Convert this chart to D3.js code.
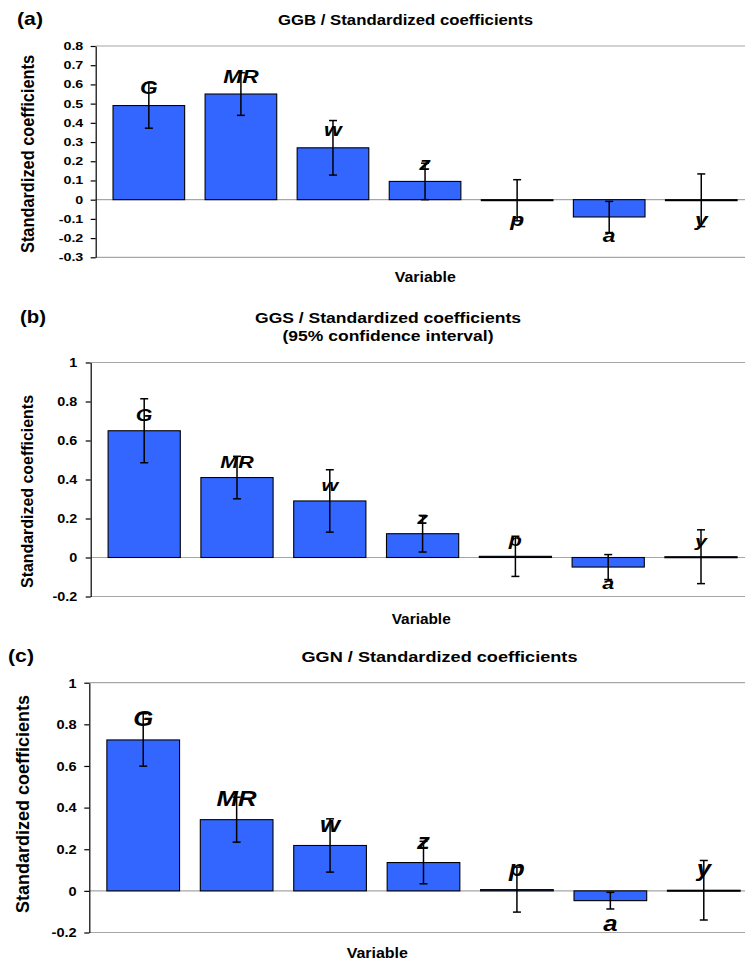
<!DOCTYPE html>
<html>
<head>
<meta charset="utf-8">
<script src="https://cdn.jsdelivr.net/npm/d3@7"></script>
<style>
  body { margin: 0; background: #fff; }
  svg text { font-family: 'Liberation Sans', Arial, sans-serif; font-weight: bold; fill: #000; }
</style>
</head>
<body>
<svg id="chart" width="745" height="964"></svg>
<script>
const variables = ['G', 'MR', 'w', 'z', 'p', 'a', 'y']

// (a) GGB
const ggbCoef = [0.49, 0.55, 0.27, 0.095, -0.003, -0.09, -0.003]
const ggbErr = [0.118, 0.111, 0.142, 0.095, 0.107, 0.081, 0.137]
const ggbTicks = [0.8, 0.7, 0.6, 0.5, 0.4, 0.3, 0.2, 0.1, 0, -0.1, -0.2, -0.3]

// (b) GGS
const ggsCoef = [0.65, 0.41, 0.29, 0.122, 0.006, -0.049, 0.004]
const ggsErr = [0.164, 0.109, 0.16, 0.094, 0.103, 0.064, 0.138]
const ggsTicks = [1, 0.8, 0.6, 0.4, 0.2, 0, -0.2]

// (c) GGN
const ggnCoef = [0.725, 0.342, 0.218, 0.136, 0.006, -0.047, 0.003]
const ggnErr = [0.126, 0.108, 0.128, 0.102, 0.108, 0.04, 0.143]
const ggnTicks = [1, 0.8, 0.6, 0.4, 0.2, 0, -0.2]

const svg = d3.select('#chart')

// the source picture is a bit stretched sideways, so text gets a horizontal scale
function drawPanel (p) {
  const g = svg.append('g')
  const y = d3.scaleLinear().domain(d3.extent(p.ticks)).range([p.bottom, p.top])
  const x = d3.scaleBand().domain(variables).range(p.band)
    .paddingInner(0.222).paddingOuter(0.111)
  const rows = variables.map((v, i) => ({ v, c: p.coef[i], e: p.err[i] }))
  const right = 745

  // plot border lines + zero line
  g.selectAll('line.grid')
    .data([y.domain()[1], 0, y.domain()[0]])
    .enter().append('line')
    .attr('x1', p.axisX).attr('x2', right)
    .attr('y1', d => y(d)).attr('y2', d => y(d))
    .attr('stroke', '#a6a6a6').attr('stroke-width', 1.2)

  g.selectAll('rect.bar')
    .data(rows)
    .enter().append('rect')
    .attr('x', d => x(d.v))
    .attr('width', x.bandwidth())
    .attr('y', d => y(Math.max(0, d.c)))
    .attr('height', d => Math.max(1, Math.abs(y(d.c) - y(0))))
    .attr('fill', '#3366ff')
    .attr('stroke', '#000').attr('stroke-width', 1.1)

  const cx = d => x(d.v) + x.bandwidth() / 2
  const err = g.selectAll('g.err').data(rows).enter().append('g')
  err.append('line')
    .attr('x1', cx).attr('x2', cx)
    .attr('y1', d => y(d.c - d.e)).attr('y2', d => y(d.c + d.e))
  err.append('line')
    .attr('x1', d => cx(d) - 4).attr('x2', d => cx(d) + 4)
    .attr('y1', d => y(d.c - d.e)).attr('y2', d => y(d.c - d.e))
  err.append('line')
    .attr('x1', d => cx(d) - 4).attr('x2', d => cx(d) + 4)
    .attr('y1', d => y(d.c + d.e)).attr('y2', d => y(d.c + d.e))
  err.selectAll('line').attr('stroke', '#000').attr('stroke-width', 1.5)

  g.selectAll('text.lab')
    .data(rows)
    .enter().append('text')
    .attr('transform', d => {
      const ly = d.c >= 0 ? y(d.c) - p.labelSize * 0.6 : y(d.c) + p.labelSize * 1.33
      return `translate(${cx(d)},${ly}) scale(${p.labelSx},1)`
    })
    .attr('text-anchor', 'middle')
    .attr('font-style', 'italic')
    .attr('font-size', p.labelSize)
    .text(d => d.v)

  const axis = g.append('g')
    .attr('transform', `translate(${p.axisX},0)`)
    .call(d3.axisLeft(y).tickValues(p.ticks).tickFormat(d => d)
      .tickSize(5).tickSizeOuter(0))
  axis.select('.domain').attr('stroke', '#000').attr('stroke-width', 1.2)
  axis.selectAll('.tick line').attr('stroke', '#000').attr('stroke-width', 1.2)
  axis.selectAll('.tick text')
    .attr('x', -p.tickGap / p.tickSx)
    .attr('transform', `scale(${p.tickSx},1)`)
    .attr('font-size', p.tickSize)
    .attr('font-family', "'Liberation Sans', Arial, sans-serif")
    .attr('font-weight', 'bold')
    .attr('fill', '#000')

  g.append('text')
    .attr('transform', `translate(${p.yTitle[0]},${p.yTitle[1]}) rotate(-90)`)
    .attr('text-anchor', 'middle').attr('dominant-baseline', 'central')
    .attr('font-size', p.yTitleSize)
    .attr('textLength', p.yTitleLen).attr('lengthAdjust', 'spacingAndGlyphs')
    .text('Standardized coefficients')

  g.append('text')
    .attr('x', p.xTitle[0]).attr('y', p.xTitle[1])
    .attr('text-anchor', 'middle').attr('dominant-baseline', 'central')
    .attr('font-size', 14)
    .attr('textLength', p.xTitleLen).attr('lengthAdjust', 'spacingAndGlyphs')
    .text('Variable')

  g.selectAll('text.title')
    .data(p.title)
    .enter().append('text')
    .attr('x', p.titlePos[0])
    .attr('y', (d, i) => p.titlePos[1] + i * 17.7)
    .attr('text-anchor', 'middle').attr('dominant-baseline', 'central')
    .attr('font-size', p.titleSize)
    .attr('textLength', (d, i) => p.titleLen[i]).attr('lengthAdjust', 'spacingAndGlyphs')
    .text(d => d)

  g.append('text')
    .attr('x', p.letter[0]).attr('y', p.letter[1])
    .attr('dominant-baseline', 'central')
    .attr('font-family', "'Open Sans', sans-serif")
    .attr('font-size', 19)
    .attr('textLength', 26).attr('lengthAdjust', 'spacingAndGlyphs')
    .text(p.letterText)
}

drawPanel({
  coef: ggbCoef, err: ggbErr, ticks: ggbTicks,
  top: 46, bottom: 257.3, axisX: 95.7, band: [102.8, 747.3],
  tickSize: 11, tickSx: 1.3, tickGap: 12.4,
  labelSize: 19, labelSx: 1.2,
  title: ['GGB / Standardized coefficients'], titleLen: [255], titlePos: [405.5, 20], titleSize: 14,
  letterText: '(a)', letter: [17, 18],
  yTitle: [27.7, 154], yTitleSize: 18, yTitleLen: 198,
  xTitle: [425.3, 277], xTitleLen: 61
})

drawPanel({
  coef: ggsCoef, err: ggsErr, ticks: ggsTicks,
  top: 362.5, bottom: 596.5, axisX: 90.7, band: [97.8, 747.4],
  tickSize: 12.5, tickSx: 1.15, tickGap: 13.5,
  labelSize: 16.5, labelSx: 1.3,
  title: ['GGS / Standardized coefficients', '(95% confidence interval)'],
  titleLen: [266, 211], titlePos: [388, 318.3], titleSize: 14,
  letterText: '(b)', letter: [20, 316.7],
  yTitle: [27.7, 491.5], yTitleSize: 17, yTitleLen: 193,
  xTitle: [421.2, 619], xTitleLen: 59
})

drawPanel({
  coef: ggnCoef, err: ggnErr, ticks: ggnTicks,
  top: 682.7, bottom: 932.5, axisX: 89.3, band: [96.5, 750.5],
  tickSize: 13.5, tickSx: 1.08, tickGap: 12.6,
  labelSize: 23, labelSx: 1.12,
  title: ['GGN / Standardized coefficients'], titleLen: [276], titlePos: [439.5, 656.7], titleSize: 15,
  letterText: '(c)', letter: [8, 655],
  yTitle: [23.3, 804], yTitleSize: 18, yTitleLen: 218,
  xTitle: [377.3, 953], xTitleLen: 61.3
})
</script>
</body>
</html>
